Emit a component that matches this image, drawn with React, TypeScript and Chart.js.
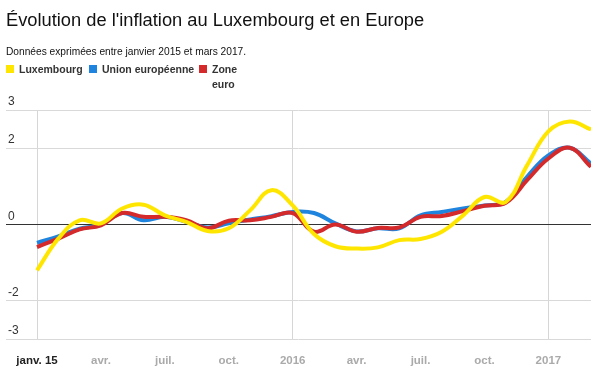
import React, { useEffect, useRef } from "react";
import { Chart, registerables } from "chart.js";

Chart.register(...registerables);

const FONT = "'Liberation Sans', Arial, Helvetica, sans-serif";

const months = [
  "2015-01", "2015-02", "2015-03", "2015-04", "2015-05", "2015-06", "2015-07", "2015-08", "2015-09",
  "2015-10", "2015-11", "2015-12", "2016-01", "2016-02", "2016-03", "2016-04", "2016-05", "2016-06",
  "2016-07", "2016-08", "2016-09", "2016-10", "2016-11", "2016-12", "2017-01", "2017-02", "2017-03",
];

const luxembourg = [
  -1.2, -0.37, 0.11, 0.03, 0.42, 0.52, 0.24, 0.07, -0.17, -0.1, 0.37, 0.9, 0.5, -0.25,
  -0.57, -0.63, -0.6, -0.41, -0.38, -0.19, 0.24, 0.72, 0.59, 1.55, 2.44, 2.7, 2.49,
];
const unionEuropeenne = [
  -0.48, -0.31, -0.11, 0.0, 0.3, 0.11, 0.2, 0.07, -0.08, 0.03, 0.13, 0.22, 0.33, 0.3,
  0.03, -0.18, -0.1, -0.1, 0.24, 0.33, 0.42, 0.5, 0.59, 1.25, 1.81, 2.01, 1.6,
];
const zoneEuro = [
  -0.59, -0.37, -0.13, -0.02, 0.3, 0.2, 0.2, 0.11, -0.1, 0.1, 0.11, 0.2, 0.3, -0.19,
  0.0, -0.19, -0.09, -0.08, 0.2, 0.22, 0.35, 0.49, 0.57, 1.16, 1.73, 2.01, 1.51,
];

const xTickIndex = [0, 3, 6, 9, 12, 15, 18, 21, 24];
const xTickLabels = ["janv. 15", "avr.", "juil.", "oct.", "2016", "avr.", "juil.", "oct.", "2017"];
const yearIndex = [0, 12, 24];
const yTicks = [-3, -2, 0, 2, 3];

const YELLOW = "#FFE600";
const BLUE = "#1E84DE";
const RED = "#D42A2C";

const toPoints = (arr: number[]) => months.map((_, i) => ({ x: i, y: arr[i] }));

export default function App() {
  const ref = useRef<HTMLCanvasElement>(null);

  useEffect(() => {
    if (!ref.current) return;
    Chart.defaults.font.family = FONT;
    const chart = new Chart(ref.current, {
      type: "line",
      data: {
        datasets: [
          { label: "Luxembourg", data: toPoints(luxembourg), borderColor: YELLOW, order: 0 },
          { label: "Zone euro", data: toPoints(zoneEuro), borderColor: RED, order: 1 },
          { label: "Union européenne", data: toPoints(unionEuropeenne), borderColor: BLUE, order: 2 },
        ].map((d) => ({
          ...d,
          borderWidth: 4,
          pointRadius: 0,
          tension: 0.4,
          fill: false,
          backgroundColor: d.borderColor,
        })),
      },
      options: {
        animation: false,
        responsive: false,
        maintainAspectRatio: false,
        layout: { padding: { top: 110, left: 6, right: 17, bottom: 0 } },
        plugins: { legend: { display: false }, tooltip: { enabled: false } },
        scales: {
          x: {
            type: "linear",
            min: -1.455,
            max: 26,
            afterBuildTicks: (axis: any) => {
              axis.ticks = xTickIndex.map((v) => ({ value: v }));
            },
            afterFit: (s: any) => {
              s.height = 36;
            },
            border: { display: false },
            grid: {
              drawTicks: false,
              color: (ctx: any) =>
                ctx.tick && yearIndex.includes(ctx.tick.value) ? "#d6d6d6" : "rgba(0,0,0,0)",
            },
            ticks: {
              padding: 15,
              autoSkip: false,
              maxRotation: 0,
              color: (ctx: any) => (ctx.index === 0 ? "#222" : "#aaaaaa"),
              font: { size: 11.5, weight: "bold" },
              callback: (_v: any, i: number) => xTickLabels[i],
            },
          },
          y: {
            type: "linear",
            min: -3,
            max: 3,
            afterBuildTicks: (axis: any) => {
              axis.ticks = yTicks.map((v) => ({ value: v }));
            },
            afterFit: (s: any) => {
              s.width = 0;
            },
            border: { display: false },
            grid: {
              drawTicks: false,
              color: (ctx: any) => (ctx.tick && ctx.tick.value === 0 ? "#333333" : "#d9d9d9"),
            },
            ticks: {
              mirror: true,
              padding: 2,
              labelOffset: -8,
              color: "#333",
              font: { size: 12 },
              callback: (v: any) => String(v),
            },
          },
        },
      },
    } as any);
    return () => chart.destroy();
  }, []);

  const legendText: React.CSSProperties = {
    position: "absolute",
    fontFamily: FONT,
    fontSize: "10.5px",
    fontWeight: "bold",
    color: "#333",
    lineHeight: "14.6px",
    whiteSpace: "nowrap",
  };
  const square = (left: number, color: string): React.CSSProperties => ({
    position: "absolute",
    left,
    top: 65,
    width: 8,
    height: 8,
    background: color,
  });

  return (
    <div
      style={{
        position: "absolute",
        left: 0,
        top: 0,
        width: 608,
        height: 375,
        background: "#fff",
        overflow: "hidden",
      }}
    >
      <canvas ref={ref} width={608} height={375} style={{ position: "absolute", left: 0, top: 0, width: 608, height: 375 }} />
      <div
        style={{
          position: "absolute",
          left: 6,
          top: 11,
          fontFamily: FONT,
          fontSize: "18.3px",
          lineHeight: "18px",
          color: "#111",
          whiteSpace: "nowrap",
        }}
      >
        Évolution de l'inflation au Luxembourg et en Europe
      </div>
      <div
        style={{
          position: "absolute",
          left: 6,
          top: 45.5,
          fontFamily: FONT,
          fontSize: "10.2px",
          lineHeight: "11px",
          color: "#111",
          whiteSpace: "nowrap",
        }}
      >
        Données exprimées entre janvier 2015 et mars 2017.
      </div>
      <div style={square(6, YELLOW)} />
      <div style={{ ...legendText, left: 19, top: 62 }}>Luxembourg</div>
      <div style={square(89, BLUE)} />
      <div style={{ ...legendText, left: 102, top: 62 }}>Union européenne</div>
      <div style={square(199, RED)} />
      <div style={{ ...legendText, left: 212, top: 62 }}>
        Zone
        <br />
        euro
      </div>
    </div>
  );
}
